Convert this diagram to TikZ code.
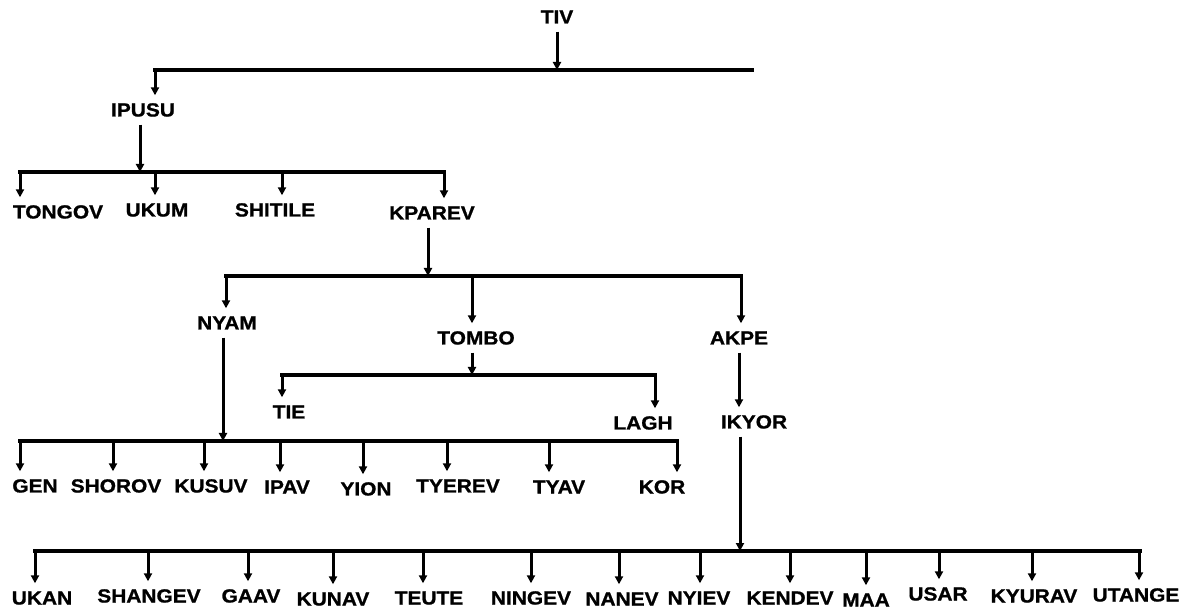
\documentclass[tikz,border=0pt]{standalone}
\usepackage{fontspec}
\setmainfont{Liberation Sans}[FakeStretch=1.1, BoldFeatures={FakeBold=1}]
\usetikzlibrary{arrows.meta}
\begin{document}
\begin{tikzpicture}[x=1pt,y=-1pt,
  lbl/.style={font=\bfseries\fontsize{19}{19}\selectfont, text height=13pt, text depth=0pt, inner xsep=0pt, inner ysep=8pt, anchor=center},
  arr/.style={line width=3pt, -{Triangle[length=8pt,width=8pt]}},
  bus/.style={line width=3.2pt, line cap=rect}]
\useasboundingbox (0,0) rectangle (1184,609);
% nodes
\node[lbl] (tiv) at (557,17) {TIV};
\node[lbl] (ipusu) at (143,110) {IPUSU};
\node[lbl] (tongov) at (58,212) {TONGOV};
\node[lbl] (ukum) at (157,210) {UKUM};
\node[lbl] (shitile) at (275,210) {SHITILE};
\node[lbl] (kparev) at (432,213) {KPAREV};
\node[lbl] (nyam) at (227,323) {NYAM};
\node[lbl] (tombo) at (476,338) {TOMBO};
\node[lbl] (akpe) at (739,338) {AKPE};
\node[lbl] (tie) at (289,412) {TIE};
\node[lbl] (lagh) at (643,423) {LAGH};
\node[lbl] (ikyor) at (754,422) {IKYOR};
\node[lbl] (gen) at (35,486) {GEN};
\node[lbl] (shorov) at (116,486) {SHOROV};
\node[lbl] (kusuv) at (211,486) {KUSUV};
\node[lbl] (ipav) at (287,487) {IPAV};
\node[lbl] (yion) at (366,489) {YION};
\node[lbl] (tyerev) at (458,486) {TYEREV};
\node[lbl] (tyav) at (559,487) {TYAV};
\node[lbl] (kor) at (662,487) {KOR};
\node[lbl] (ukan) at (42,598) {UKAN};
\node[lbl] (shangev) at (149,596) {SHANGEV};
\node[lbl] (gaav) at (251,596) {GAAV};
\node[lbl] (kunav) at (333,599) {KUNAV};
\node[lbl] (teute) at (429,598) {TEUTE};
\node[lbl] (ningev) at (531,598) {NINGEV};
\node[lbl] (nanev) at (622,599) {NANEV};
\node[lbl] (nyiev) at (699,598) {NYIEV};
\node[lbl] (kendev) at (790,598) {KENDEV};
\node[lbl] (maa) at (866,600) {MAA};
\node[lbl] (usar) at (938,594) {USAR};
\node[lbl] (kyurav) at (1034,596) {KYURAV};
\node[lbl] (utange) at (1136,595) {UTANGE};
% bus coordinates
\coordinate (b0l) at (155,70);  \coordinate (b0r) at (752,70);
\coordinate (b1l) at (20,172);  \coordinate (b1r) at (444,172);
\coordinate (b2l) at (226,276); \coordinate (b2r) at (741,276);
\coordinate (b3l) at (282,375); \coordinate (b3r) at (655,375);
\coordinate (b4l) at (20,441);  \coordinate (b4r) at (677,441);
\coordinate (b5l) at (35,551);  \coordinate (b5r) at (1140,551);
% level 0
\draw[arr] (tiv.south) -- (tiv.south |- b0l);
\draw[bus] (b0l) -- (b0r);
\draw[arr] (b0l) -- (b0l |- ipusu.north);
% level 1
\draw[arr] (140,0 |- ipusu.south) -- (140,0 |- b1l);
\draw[bus] (b1l) -- (b1r);
\foreach \x/\n in {20/tongov,155/ukum,282/shitile,444/kparev}
  \draw[arr] (\x,0 |- b1l) -- (\x,0 |- \n.north);
% level 2
\draw[arr] (428,0 |- kparev.south) -- (428,0 |- b2l);
\draw[bus] (b2l) -- (b2r);
\foreach \x/\n in {226/nyam,472/tombo,741/akpe}
  \draw[arr] (\x,0 |- b2l) -- (\x,0 |- \n.north);
% tombo
\draw[arr] (472,0 |- tombo.south) -- (472,0 |- b3l);
\draw[bus] (b3l) -- (b3r);
\foreach \x/\n in {282/tie,655/lagh}
  \draw[arr] (\x,0 |- b3l) -- (\x,0 |- \n.north);
% akpe -> ikyor
\draw[arr] (739,0 |- akpe.south) -- (739,0 |- ikyor.north);
% nyam
\draw[arr] (223,0 |- nyam.south) -- (223,0 |- b4l);
\draw[bus] (b4l) -- (b4r);
\foreach \x/\n in {20/gen,113/shorov,204/kusuv,280/ipav,363/yion,447/tyerev,549/tyav,677/kor}
  \draw[arr] (\x,0 |- b4l) -- (\x,0 |- \n.north);
% ikyor
\draw[arr] (740,0 |- ikyor.south) -- (740,0 |- b5l);
\draw[bus] (b5l) -- (b5r);
\foreach \x/\n in {35/ukan,148/shangev,248/gaav,333/kunav,423/teute,531/ningev,619/nanev,700/nyiev,790/kendev,866/maa,939/usar,1032/kyurav,1139/utange}
  \draw[arr] (\x,0 |- b5l) -- (\x,0 |- \n.north);
\end{tikzpicture}
\end{document}
